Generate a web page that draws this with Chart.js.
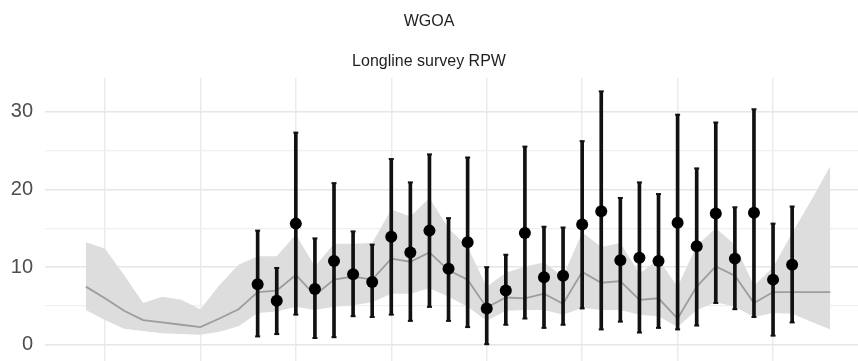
<!DOCTYPE html>
<html>
<head>
<meta charset="utf-8">
<script src="https://cdn.jsdelivr.net/npm/chart.js@4/dist/chart.umd.min.js"></script>
<style>
  html, body { margin: 0; padding: 0; background: #ffffff; }
  #wrap { width: 858px; height: 361px; }
</style>
</head>
<body>
<div id="wrap"><canvas id="c" width="858" height="361"></canvas></div>
<script>
// ---- model fit (grey line + ribbon) ----
const fitYears = [1979,1980,1981,1982,1983,1984,1985,1986,1987,1988,1989,1990,1991,1992,1993,1994,1995,1996,1997,1998,1999,2000,2001,2002,2003,2004,2005,2006,2007,2008,2009,2010,2011,2012,2013,2014,2015,2016,2017,2018];
const fitMean  = [7.5,6.0,4.4,3.2,2.9,2.6,2.3,3.4,4.6,6.8,7.0,9.0,6.4,8.4,8.8,8.4,11.1,10.7,11.9,9.6,8.4,4.8,6.1,6.0,6.6,5.3,9.4,8.0,8.2,5.8,6.0,3.4,7.5,10.1,8.9,5.4,6.8,6.8,6.8,6.8];
const fitUpper = [13.2,12.4,9.0,5.4,6.2,5.8,4.6,7.7,10.3,11.4,11.4,14.2,10.1,13.0,13.0,13.1,17.4,16.5,18.9,15.0,12.6,7.5,9.3,10.1,10.6,8.8,14.5,12.6,13.1,9.2,11.0,7.5,12.8,15.0,12.9,7.6,10.0,14.4,18.6,23.0];
const fitLower = [4.5,3.2,2.1,1.8,1.5,1.4,1.3,1.7,2.4,4.1,4.3,4.9,4.5,4.9,5.1,5.5,6.6,6.6,7.3,6.2,4.9,3.1,4.4,4.5,4.5,3.9,4.8,4.5,4.5,3.9,3.7,2.3,4.5,5.5,4.9,3.6,4.1,4.0,3.0,2.0];

// ---- survey observations (points + error bars) ----
const surveyYears = [1988,1989,1990,1991,1992,1993,1994,1995,1996,1997,1998,1999,2000,2001,2002,2003,2004,2005,2006,2007,2008,2009,2010,2011,2012,2013,2014,2015,2016];
const rpw      = [7.8,5.7,15.6,7.2,10.8,9.1,8.1,13.9,11.9,14.7,9.8,13.2,4.7,7.0,14.4,8.7,8.9,15.5,17.2,10.9,11.2,10.8,15.7,12.7,16.9,11.1,17.0,8.4,10.3];
const rpwUpper = [14.7,9.9,27.3,13.7,20.8,14.6,12.9,23.9,20.9,24.5,16.3,24.1,10.0,11.6,25.5,15.2,15.1,26.2,32.6,18.9,20.9,19.4,29.6,22.7,28.6,17.7,30.3,15.6,17.8];
const rpwLower = [1.1,1.4,3.9,0.9,1.0,3.7,3.6,3.9,3.1,4.9,3.1,2.3,0.1,2.6,3.4,2.2,2.6,4.7,2.0,3.0,1.6,2.2,2.0,2.5,5.4,4.6,3.6,1.2,2.9];

// ---- axes ----
const yTicks = [0,5,10,15,20,25,30];
const yLabelled = [0,10,20,30];
const xGridYears = [1980,1985,1990,1995,2000,2005,2010,2015];

const pts = (xs, ys) => xs.map((x, i) => ({ x: x, y: ys[i] }));

new Chart(document.getElementById('c'), {
  type: 'scatter',
  data: {
    datasets: [
      { type: 'line', data: pts(fitYears, fitLower), borderWidth: 0, borderColor: 'rgba(0,0,0,0)',
        pointRadius: 0, fill: false, order: 10 },
      { type: 'line', data: pts(fitYears, fitUpper), borderWidth: 0, borderColor: 'rgba(0,0,0,0)',
        backgroundColor: '#dddddd', pointRadius: 0, fill: '-1', order: 9 },
      { type: 'line', data: pts(fitYears, fitMean), borderWidth: 1.8, borderColor: '#9d9d9d',
        pointRadius: 0, fill: false, tension: 0, order: 8 },
      { type: 'bar', data: surveyYears.map((x, i) => ({ x: x, y: [rpwLower[i], rpwUpper[i]] })),
        backgroundColor: '#111111', borderWidth: 0, barThickness: 3, grouped: false, order: 4 },
      { type: 'scatter', data: pts(surveyYears, rpwUpper).concat(pts(surveyYears, rpwLower)),
        pointStyle: 'line', pointRadius: 2.5, borderWidth: 2, borderColor: '#111111', order: 3 },
      { type: 'scatter', data: pts(surveyYears, rpw), pointRadius: 6, pointBackgroundColor: '#000000',
        pointBorderWidth: 0, order: 1 }
    ]
  },
  options: {
    responsive: false,
    animation: false,
    events: [],
    layout: { padding: 0, autoPadding: false },
    plugins: {
      legend: { display: false },
      tooltip: { enabled: false },
      title: { display: true, text: 'WGOA', color: '#1f1f1f',
        font: { family: 'Liberation Sans, Arial, sans-serif', size: 16, weight: 'normal' },
        padding: { top: 12, bottom: 0 } },
      subtitle: { display: true, text: 'Longline survey RPW', color: '#1f1f1f',
        font: { family: 'Liberation Sans, Arial, sans-serif', size: 16, weight: 'normal' },
        padding: { top: 21, bottom: 6.6 } }
    },
    scales: {
      x: {
        type: 'linear', min: 1976.86, max: 2019.45, offset: false,
        afterBuildTicks: s => { s.ticks = xGridYears.map(v => ({ value: v })); },
        afterFit: s => { s.height = 0; s.paddingLeft = 0; s.paddingRight = 0; s.paddingTop = 0; s.paddingBottom = 0; },
        ticks: { display: false },
        border: { display: false },
        grid: { color: '#ebebeb', lineWidth: 1.5, drawTicks: false, offset: false }
      },
      y: {
        type: 'linear', min: -2.06, max: 34.32,
        afterBuildTicks: s => { s.ticks = yTicks.map(v => ({ value: v })); },
        afterFit: s => { s.width = 45; s.paddingTop = 0; s.paddingBottom = 0; s.paddingLeft = 0; s.paddingRight = 0; },
        ticks: {
          padding: 12, color: '#4d4d4d',
          font: { family: 'Liberation Sans, Arial, sans-serif', size: 20 },
          callback: v => (yLabelled.includes(v) ? String(v) : '')
        },
        border: { display: false },
        grid: {
          drawTicks: false,
          color: c => (c.tick && yLabelled.includes(c.tick.value) ? '#e6e6e6' : '#f0f0f0'),
          lineWidth: c => (c.tick && yLabelled.includes(c.tick.value) ? 1.6 : 1.2)
        }
      }
    }
  }
});
</script>
</body>
</html>
